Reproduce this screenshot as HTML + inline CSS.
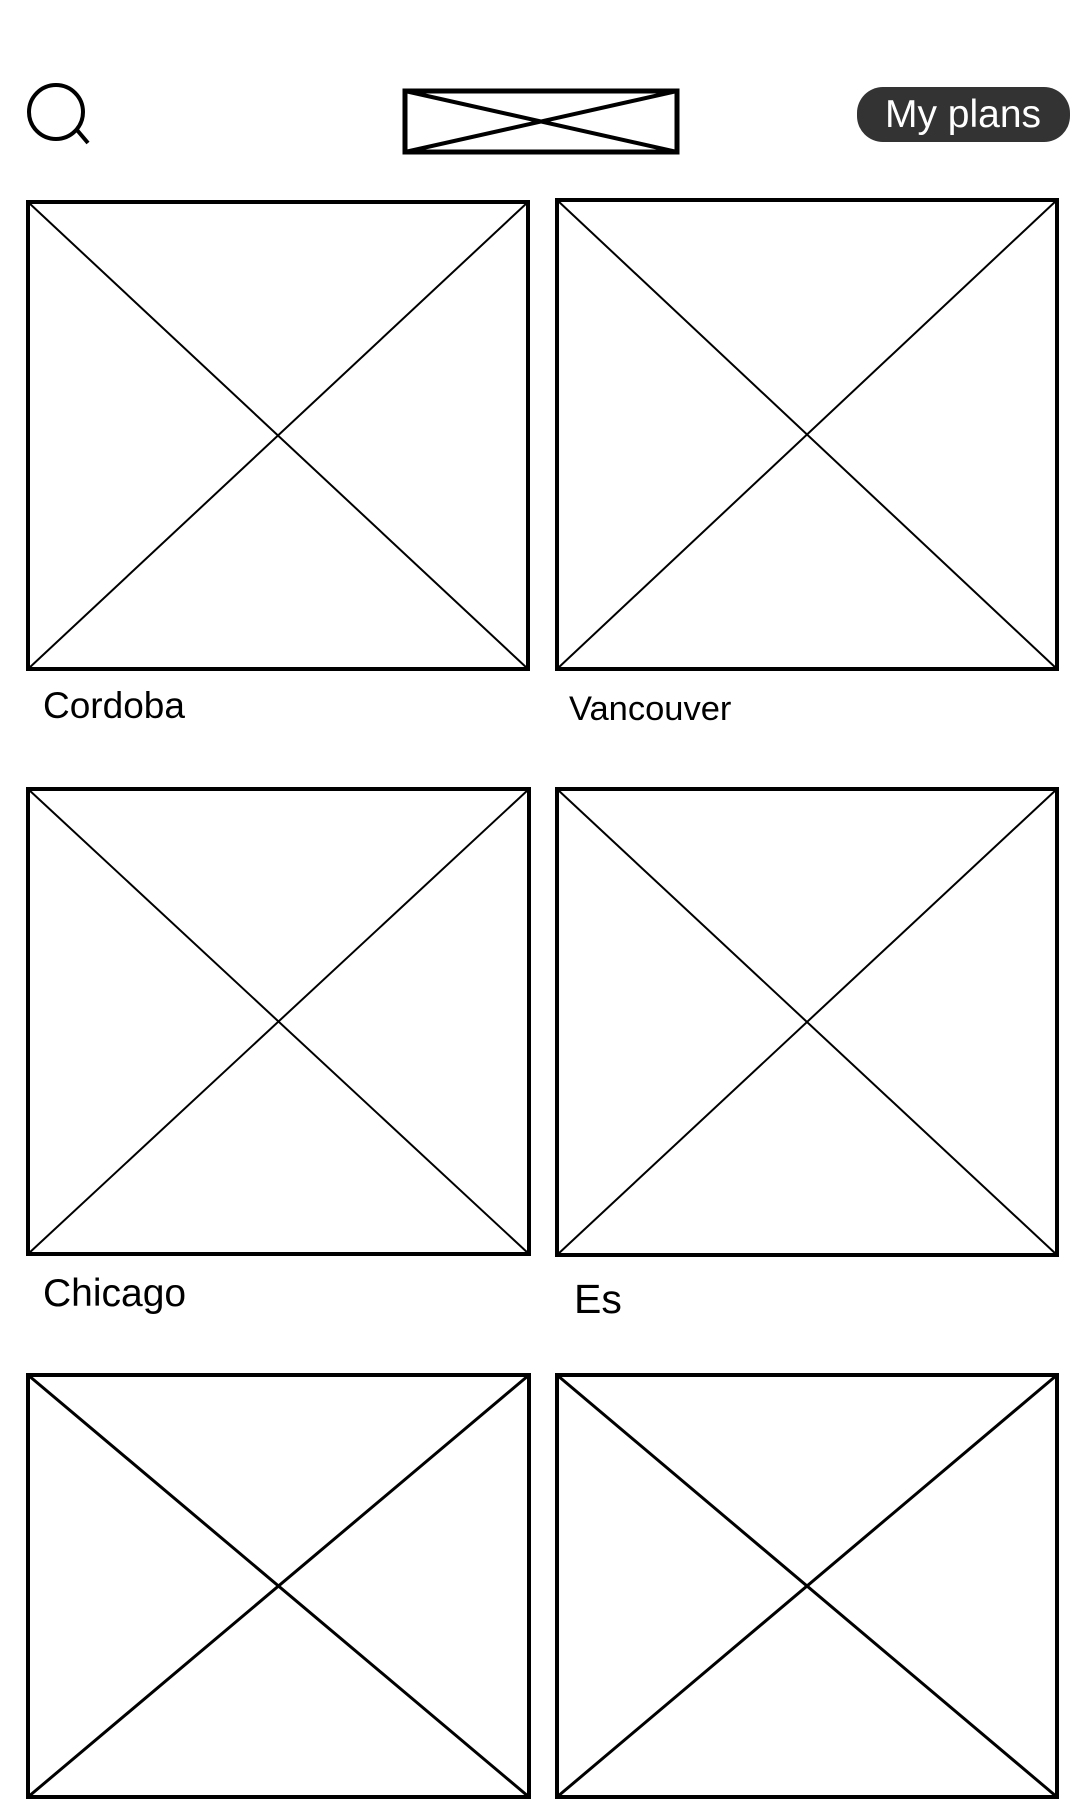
<!DOCTYPE html>
<html><head><meta charset="utf-8"><style>
html,body{margin:0;padding:0;background:#fff;width:1080px;height:1800px;overflow:hidden}
svg{display:block}
text{font-family:"Liberation Sans",sans-serif}
</style></head><body>
<svg width="1080" height="1800" viewBox="0 0 1080 1800">
<g fill="none" stroke="#000" stroke-width="4">
<circle cx="56" cy="112" r="27"/>
<line x1="77" y1="130" x2="88" y2="143"/>
</g>
<g fill="none" stroke="#000">
<rect x="405" y="91" width="272" height="61" stroke-width="5"/>
<line x1="405" y1="91" x2="677" y2="152" stroke-width="4"/>
<line x1="405" y1="152" x2="677" y2="91" stroke-width="4"/>
</g>
<g>
<rect x="857" y="87" width="213" height="55" rx="26" fill="#333"/>
<text x="963" y="127" font-size="39" fill="#fff" text-anchor="middle">My plans</text>
</g>
<g id="tiles"></g>
</svg>
<script>
const tiles=[
 {x:28,y:202,w:500,h:467,label:"Cordoba",lx:43,ly:718,fs:37,sw:2},
 {x:557,y:200,w:500,h:469,label:"Vancouver",lx:569,ly:720,fs:34.5,sw:2},
 {x:28,y:789,w:501,h:465,label:"Chicago",lx:43,ly:1306,fs:39,sw:2},
 {x:557,y:789,w:500,h:466,label:"Es",lx:574,ly:1313,fs:41,sw:2},
 {x:28,y:1375,w:501,h:422,label:"",sw:3},
 {x:557,y:1375,w:500,h:422,label:"",sw:3}
];
const g=document.getElementById('tiles');
const NS="http://www.w3.org/2000/svg";
tiles.forEach((t,i)=>{
 const grp=document.createElementNS(NS,'g');
 
 
 const r=document.createElementNS(NS,'rect');
 r.setAttribute('x',t.x);r.setAttribute('y',t.y);r.setAttribute('width',t.w);r.setAttribute('height',t.h);
 r.setAttribute('fill','none');r.setAttribute('stroke','#000');r.setAttribute('stroke-width','4');
 
 
 grp.appendChild(r);
 [[t.x,t.y,t.x+t.w,t.y+t.h],[t.x,t.y+t.h,t.x+t.w,t.y]].forEach(c=>{
  const l=document.createElementNS(NS,'line');
  l.setAttribute('x1',c[0]);l.setAttribute('y1',c[1]);l.setAttribute('x2',c[2]);l.setAttribute('y2',c[3]);
  l.setAttribute('stroke','#000');l.setAttribute('stroke-width',t.sw);
  
  
  grp.appendChild(l);
 });
 if(t.label){
  const tx=document.createElementNS(NS,'text');
  tx.setAttribute('x',t.lx);tx.setAttribute('y',t.ly);tx.setAttribute('font-size',t.fs);
  tx.textContent=t.label;
  
  
  grp.appendChild(tx);
 }
 g.appendChild(grp);
});
</script>
</body></html>
